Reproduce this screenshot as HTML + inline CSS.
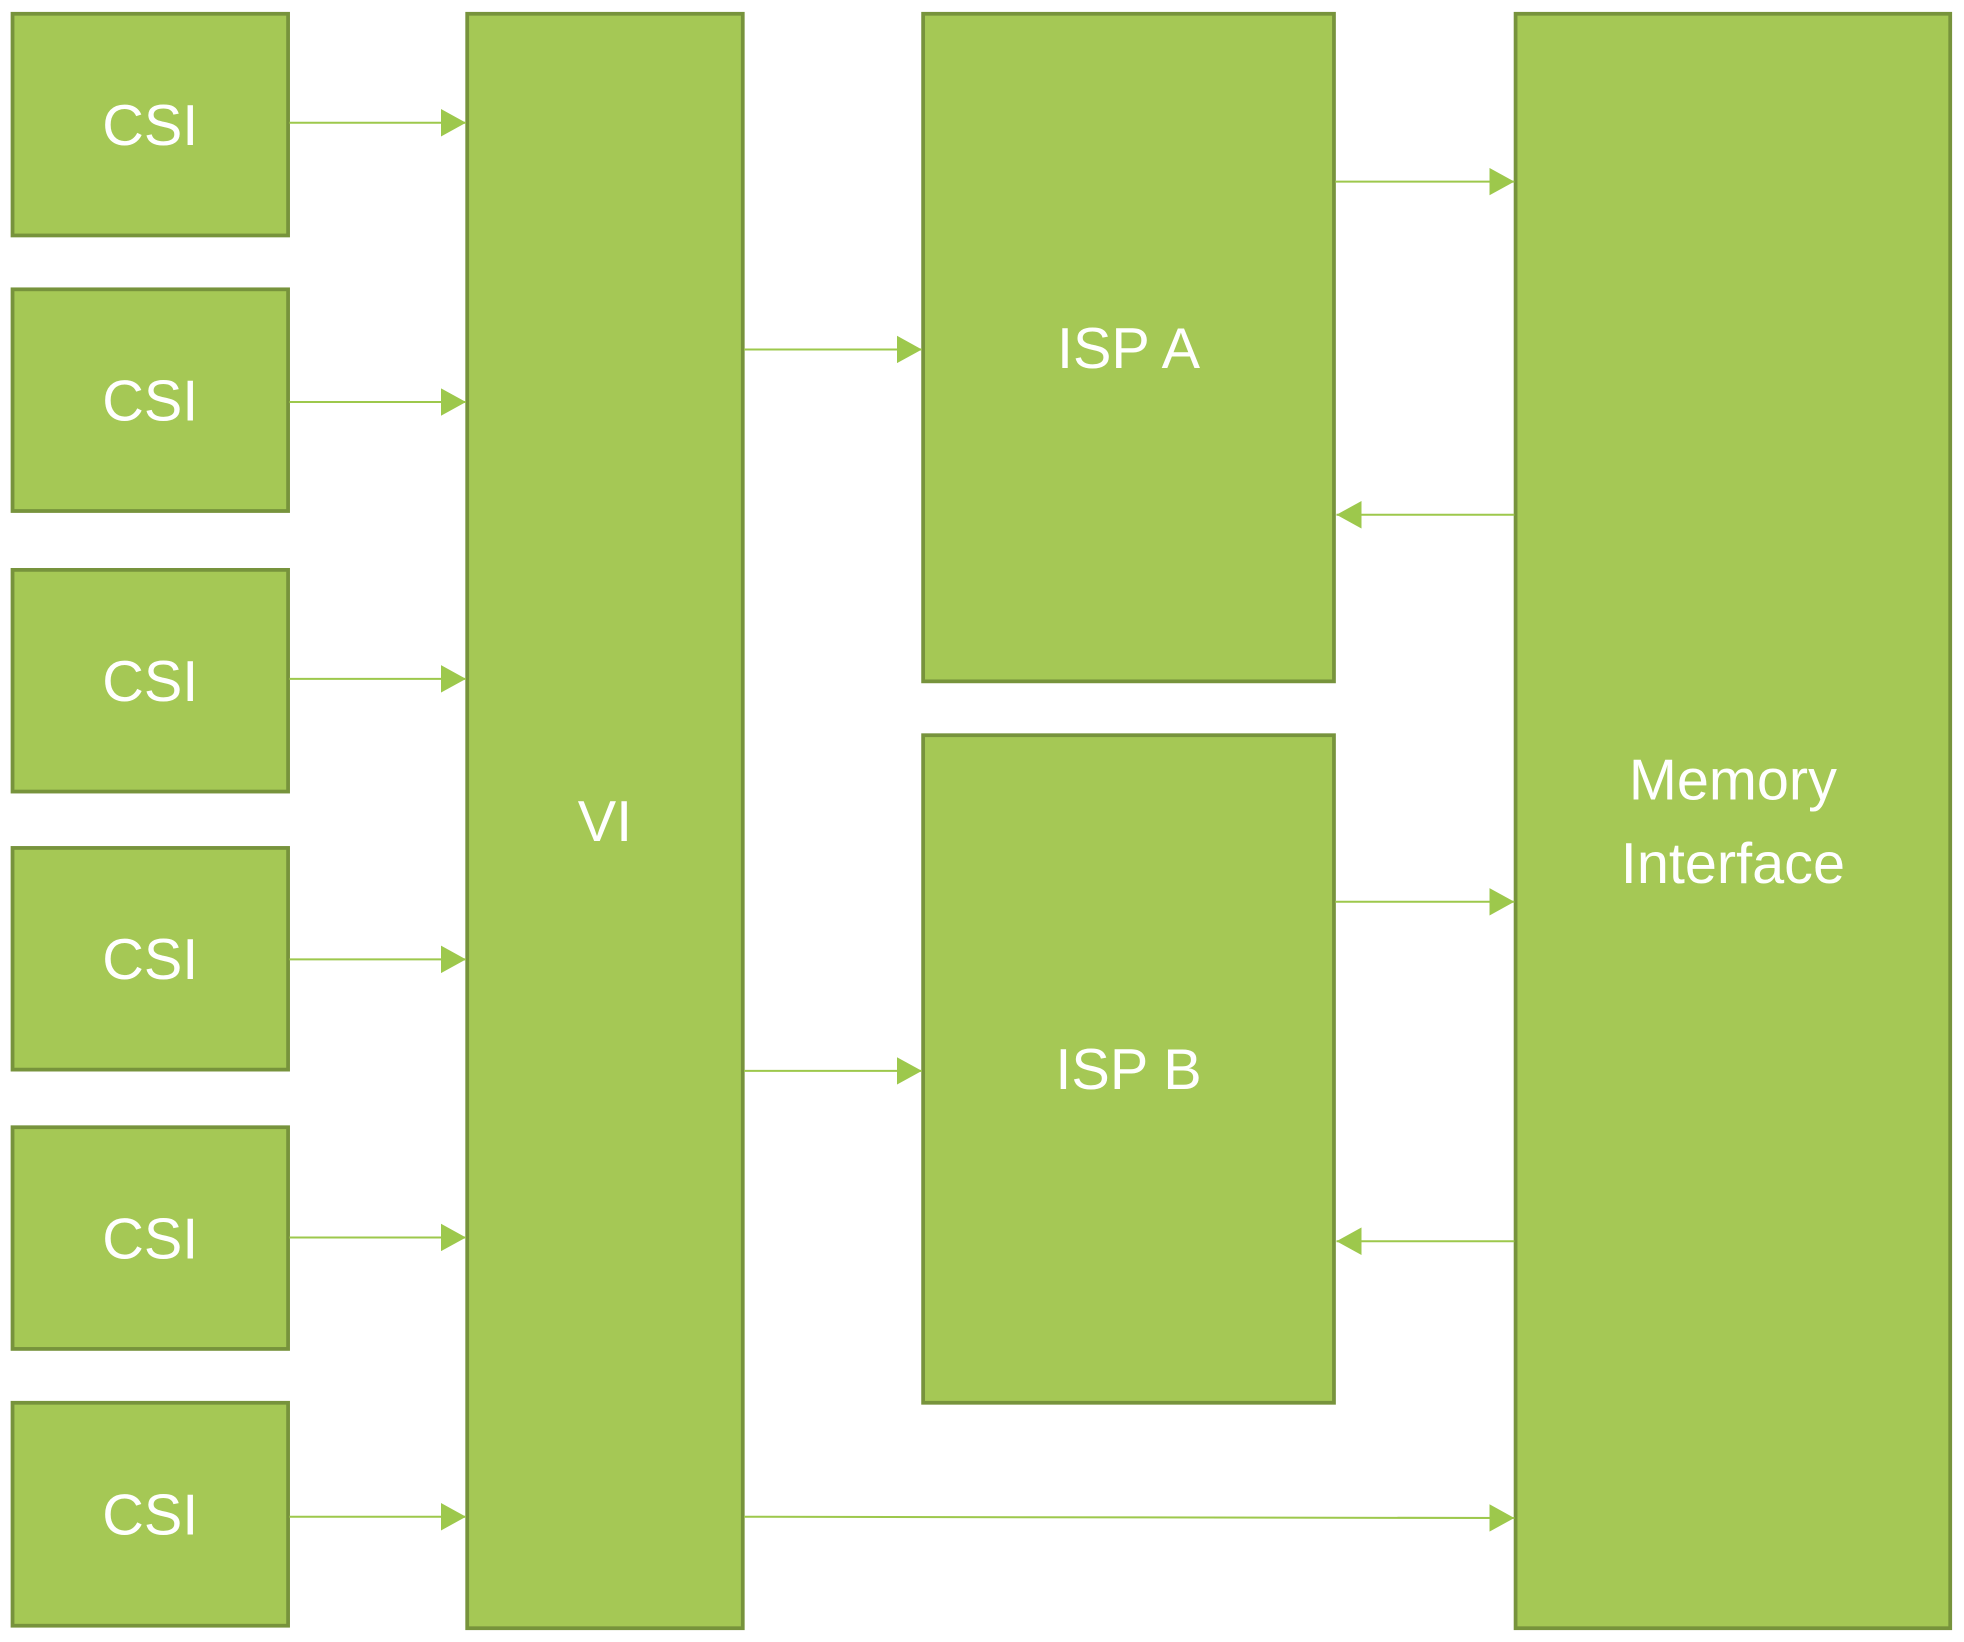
<!DOCTYPE html>
<html><head><meta charset="utf-8"><style>
html,body{margin:0;padding:0;background:#fff;}
svg{display:block}
text{font-family:"Liberation Sans",sans-serif;fill:#fff;font-size:46px;text-anchor:middle;dominant-baseline:central}
</style></head><body>
<svg width="1964" height="1642" viewBox="0 0 1568 1311" preserveAspectRatio="none">
<defs><marker id="ah" markerWidth="20" markerHeight="22" refX="20" refY="11" orient="auto" markerUnits="userSpaceOnUse"><path d="M0,0 L20,11 L0,22 Z" fill="#9dc84c"/></marker></defs>
<g id="boxes"></g>
<g id="arrows"></g>
</svg>
<script>
const NS="http://www.w3.org/2000/svg";
const boxes=[
 ["csi-1","CSI",10,11,220,177],["csi-2","CSI",10,231,220,177],["csi-3","CSI",10,455,220,177],
 ["csi-4","CSI",10,677,220,177],["csi-5","CSI",10,900,220,177],["csi-6","CSI",10,1120,220,178],
 ["vi-block","VI",373,11,220,1289],["isp-a","ISP A",737,11,328,533],["isp-b","ISP B",737,587,328,533],
 ["memory-interface","Memory|Interface",1210,11,347,1289]];
const arrows=[
 ["csi1-to-vi",231,98,372,98],["csi2-to-vi",231,321,372,321],["csi3-to-vi",231,542,372,542],
 ["csi4-to-vi",231,766,372,766],["csi5-to-vi",231,988,372,988],["csi6-to-vi",231,1211,372,1211],
 ["vi-to-isp-a",594,279,736,279],["vi-to-isp-b",594,855,736,855],
 ["isp-a-to-memory",1066,145,1209,145],["memory-to-isp-a",1209,411,1067,411],
 ["isp-b-to-memory",1066,720,1209,720],["memory-to-isp-b",1209,991,1067,991],
 ["vi-to-memory",594,1211,1209,1212]];
const gb=document.getElementById('boxes'),ga=document.getElementById('arrows');
boxes.forEach(b=>{
 const g=document.createElementNS(NS,'g');
 
 
 const r=document.createElementNS(NS,'rect');
 r.setAttribute('x',b[2]);r.setAttribute('y',b[3]);r.setAttribute('width',b[4]);r.setAttribute('height',b[5]);
 r.setAttribute('fill','#a5c855');r.setAttribute('stroke','#77933c');r.setAttribute('stroke-width','3');
 g.appendChild(r);
 const lines=b[1].split('|');const cx=b[2]+b[4]/2,cy=b[3]+b[5]/2;
 lines.forEach((l,i)=>{
  const t=document.createElementNS(NS,'text');
  
  
  t.setAttribute('x',cx);t.setAttribute('y',cy+(i-(lines.length-1)/2)*67+1);
  t.textContent=l;g.appendChild(t);
 });
 gb.appendChild(g);
});
arrows.forEach(a=>{
 const l=document.createElementNS(NS,'line');
 
 
 l.setAttribute('x1',a[1]);l.setAttribute('y1',a[2]);l.setAttribute('x2',a[3]);l.setAttribute('y2',a[4]);
 l.setAttribute('stroke','#9dc84c');l.setAttribute('stroke-width','1.6');l.setAttribute('marker-end','url(#ah)');
 ga.appendChild(l);
});
</script>
</body></html>
